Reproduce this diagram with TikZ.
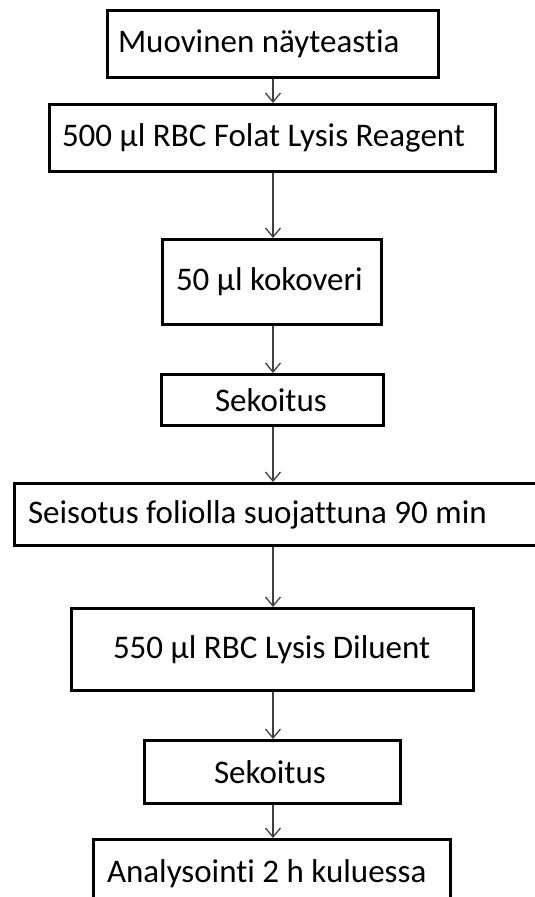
\documentclass[tikz,border=0pt]{standalone}
\usepackage{fontspec}
\setmainfont{Carlito}[Ligatures=NoCommon]
\usetikzlibrary{arrows.meta}

\newcommand{\stepfont}{\fontsize{33}{38}\selectfont}
\newlength{\stepspace}
\setlength{\stepspace}{7.5pt}

\tikzset{
  stepbox/.style={draw, rectangle, line width=3pt, align=left, inner ysep=0pt,
    font=\stepfont, execute at begin node={\spaceskip=\stepspace}},
  flow/.style={draw=black!75, line width=1.3pt, -{Straight Barb[length=9pt,width=15pt,line width=1.3pt]}}
}

\begin{document}
\begin{tikzpicture}[x=1pt,y=-1pt]
  \useasboundingbox (0,0) rectangle (535,897);
  % steps
  \node[stepbox, inner xsep=10.5pt, text width=310pt, minimum height=67pt] (b1) at (273,44) {\mbox{Muovinen näyteastia}};
  \node[stepbox, inner xsep=12.5pt, text width=421pt, minimum height=67pt] (b2) at (272.5,138) {\mbox{500 µl RBC Folat Lysis Reagent}};
  \node[stepbox, inner xsep=13.5pt, text width=192pt, minimum height=85pt] (b3) at (272,282) {\mbox{50 µl kokoveri}};
  \node[stepbox, inner xsep=53.5pt, text width=115pt, minimum height=51pt] (b4) at (272.5,400) {\mbox{Sekoitus}};
  \node[stepbox, inner xsep=13.5pt, text width=502pt, minimum height=62pt] (b5) at (279,514.5) {\mbox{Seisotus foliolla suojattuna 90 min}};
  \node[stepbox, inner xsep=41.5pt, text width=319pt, minimum height=82pt] (b6) at (272.5,649.5) {\mbox{550 µl RBC Lysis Diluent}};
  \node[stepbox, inner xsep=69.5pt, text width=117pt, minimum height=63pt] (b7) at (272.5,772) {\mbox{Sekoitus}};
  \node[stepbox, inner xsep=13.5pt, text width=330pt, minimum height=69pt] (b8) at (272,874) {\mbox{Analysointi 2 h kuluessa}};
  % arrows
  \coordinate (ax) at (273,0);
  \foreach \a/\b in {b1/b2, b2/b3, b3/b4, b4/b5, b5/b6, b6/b7, b7/b8}
    \draw[flow] (ax |- \a.south) -- (ax |- \b.north);
\end{tikzpicture}
\end{document}
